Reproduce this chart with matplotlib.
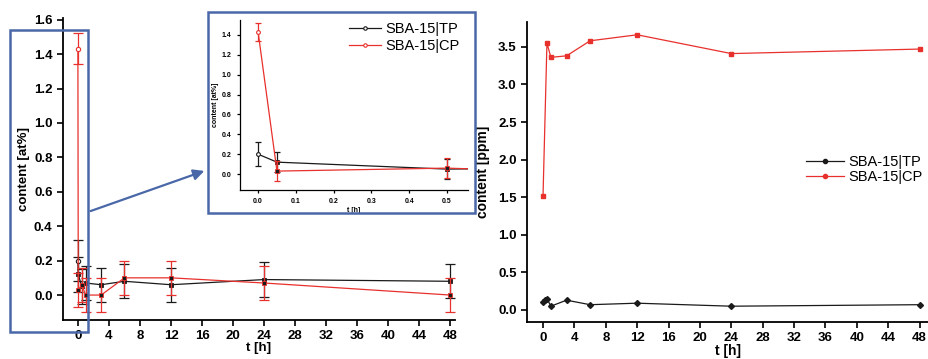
import matplotlib
matplotlib.use("Agg")
import matplotlib.pyplot as plt
from matplotlib.patches import Rectangle, FancyArrowPatch

plt.rcParams['font.family'] = ['Liberation Sans', 'DejaVu Sans']

# ---- data: left panel (content in at%) ----
t_at = [0, 0.05, 0.5, 1, 3, 6, 12, 24, 48]
tp_at = [0.20, 0.12, 0.05, 0.07, 0.06, 0.08, 0.06, 0.09, 0.08]
tp_at_err = [0.12, 0.10, 0.10, 0.10, 0.10, 0.10, 0.10, 0.10, 0.10]
cp_at = [1.43, 0.03, 0.06, 0.00, 0.00, 0.10, 0.10, 0.07, 0.00]
cp_at_err = [0.09, 0.10, 0.10, 0.10, 0.10, 0.10, 0.10, 0.10, 0.10]

# ---- data: right panel (content in ppm) ----
t_tp_ppm = [0, 0.25, 0.5, 1, 3, 6, 12, 24, 48]
tp_ppm = [0.11, 0.13, 0.15, 0.05, 0.13, 0.07, 0.09, 0.05, 0.07]
t_cp_ppm = [0, 0.5, 1, 3, 6, 12, 24, 48]
cp_ppm = [1.52, 3.55, 3.36, 3.38, 3.58, 3.66, 3.41, 3.47]

labels = ['SBA-15|TP', 'SBA-15|CP']
xticks = [0, 4, 8, 12, 16, 20, 24, 28, 32, 36, 40, 44, 48]

BLACK = '#1a1a1a'
RED = '#e8302c'
BLUE = '#4a68a8'

fig = plt.figure(figsize=(9.29, 3.59), dpi=100)


def style(ax, fs):
    ax.spines['top'].set_visible(False)
    ax.spines['right'].set_visible(False)
    ax.spines['left'].set_linewidth(1.3)
    ax.spines['bottom'].set_linewidth(1.3)
    ax.tick_params(direction='out', width=1.2, length=4, labelsize=fs)
    for lab in ax.get_xticklabels() + ax.get_yticklabels():
        lab.set_fontweight('bold')


def series(ax, t, y, err, color, ms, cap):
    ax.errorbar(t, y, yerr=err, color=color, lw=0.9, elinewidth=0.9,
                capsize=cap, capthick=0.9, fmt='none')
    ax.plot(t, y, color=color, lw=0.9)
    ax.plot(t[1:], y[1:], 's', color=color, ms=ms, mfc=BLACK if color == RED else color,
            mec=color, mew=0.6, ls='none')
    ax.plot(t[:1], y[:1], 'o', color=color, ms=ms + 0.5, mfc='white', mec=color, mew=0.8,
            ls='none')


# ---- left main axes ----
ax1 = fig.add_axes([0.0678, 0.1086, 0.4220, 0.8414])
series(ax1, t_at, tp_at, tp_at_err, BLACK, 2.6, 3.5)
series(ax1, t_at, cp_at, cp_at_err, RED, 2.6, 3.5)
ax1.set_xlim(-1.92, 48.6)
ax1.set_ylim(-0.145, 1.61)
ax1.set_xticks(xticks)
ax1.set_yticks([0.0, 0.2, 0.4, 0.6, 0.8, 1.0, 1.2, 1.4, 1.6])
ax1.yaxis.set_major_formatter(matplotlib.ticker.FormatStrFormatter('%.1f'))
ax1.set_xlabel('t [h]', fontsize=9.5, fontweight='bold', labelpad=0)
ax1.set_ylabel('content [at%]', fontsize=9.5, fontweight='bold', labelpad=3)
style(ax1, 9.5)

# ---- inset ----
ax2 = fig.add_axes([0.2583, 0.4708, 0.2455, 0.4735])
series(ax2, t_at, tp_at, tp_at_err, BLACK, 2.2, 2.5)
series(ax2, t_at, cp_at, cp_at_err, RED, 2.2, 2.5)
ax2.set_xlim(-0.048, 0.556)
ax2.set_ylim(-0.16, 1.55)
ax2.set_xticks([0.0, 0.1, 0.2, 0.3, 0.4, 0.5])
ax2.set_yticks([0.0, 0.2, 0.4, 0.6, 0.8, 1.0, 1.2, 1.4])
ax2.yaxis.set_major_formatter(matplotlib.ticker.FormatStrFormatter('%.1f'))
ax2.xaxis.set_major_formatter(matplotlib.ticker.FormatStrFormatter('%.1f'))
ax2.set_xlabel('t [h]', fontsize=5, fontweight='bold', labelpad=1)
ax2.set_ylabel('content [at%]', fontsize=5, fontweight='bold', labelpad=2)
ax2.patch.set_alpha(0)
style(ax2, 5)
ax2.tick_params(length=2.5, width=0.9)
for s in ('left', 'bottom'):
    ax2.spines[s].set_linewidth(0.9)
h1, = ax2.plot([], [], '-o', color=BLACK, lw=0.9, ms=2.5, mfc='white', mew=0.8)
h2, = ax2.plot([], [], '-o', color=RED, lw=0.9, ms=2.5, mfc='white', mew=0.8)
ax2.legend([h1, h2], labels, loc='upper right', bbox_to_anchor=(1.0, 1.04),
           frameon=False, fontsize=10.5, handlelength=2.2, handletextpad=0.3,
           labelspacing=0.2, borderaxespad=0.2)

# ---- right axes ----
ax3 = fig.add_axes([0.5673, 0.1031, 0.4327, 0.8356])
ax3.plot(t_tp_ppm, tp_ppm, '-D', color=BLACK, lw=0.9, ms=3)
ax3.plot(t_cp_ppm, cp_ppm, '-s', color=RED, lw=0.9, ms=3)
ax3.set_xlim(-2.04, 49.2)
ax3.set_ylim(-0.16, 3.83)
ax3.set_xticks(xticks)
ax3.set_yticks([0.0, 0.5, 1.0, 1.5, 2.0, 2.5, 3.0, 3.5])
ax3.yaxis.set_major_formatter(matplotlib.ticker.FormatStrFormatter('%.1f'))
ax3.set_xlabel('t [h]', fontsize=10, fontweight='bold', labelpad=0)
ax3.set_ylabel('content [ppm]', fontsize=10, fontweight='bold', labelpad=6)
style(ax3, 9.5)
lg3a, = ax3.plot([], [], '-o', color=BLACK, lw=0.9, ms=3)
lg3b, = ax3.plot([], [], '-o', color=RED, lw=0.9, ms=3)
fig.legend([lg3a, lg3b], labels, loc='upper right', bbox_to_anchor=(0.999, 0.585),
           frameon=False, fontsize=10.5, handlelength=2.6, handletextpad=0.3,
           labelspacing=0.1, borderaxespad=0)

# ---- highlight boxes and arrow ----
fig.patches.append(Rectangle((0.0108, 0.0752), 0.084, 0.841, transform=fig.transFigure,
                             fill=False, ec=BLUE, lw=1.8, zorder=10))
fig.patches.append(Rectangle((0.2239, 0.4067), 0.2874, 0.56, transform=fig.transFigure,
                             fill=False, ec=BLUE, lw=1.8, zorder=10))
fig.patches.append(FancyArrowPatch((0.0947, 0.4095), (0.2228, 0.5265),
                                   transform=fig.transFigure, arrowstyle='-|>',
                                   mutation_scale=16, color=BLUE, lw=1.6, zorder=10))

fig.savefig('out.png', dpi=100)
